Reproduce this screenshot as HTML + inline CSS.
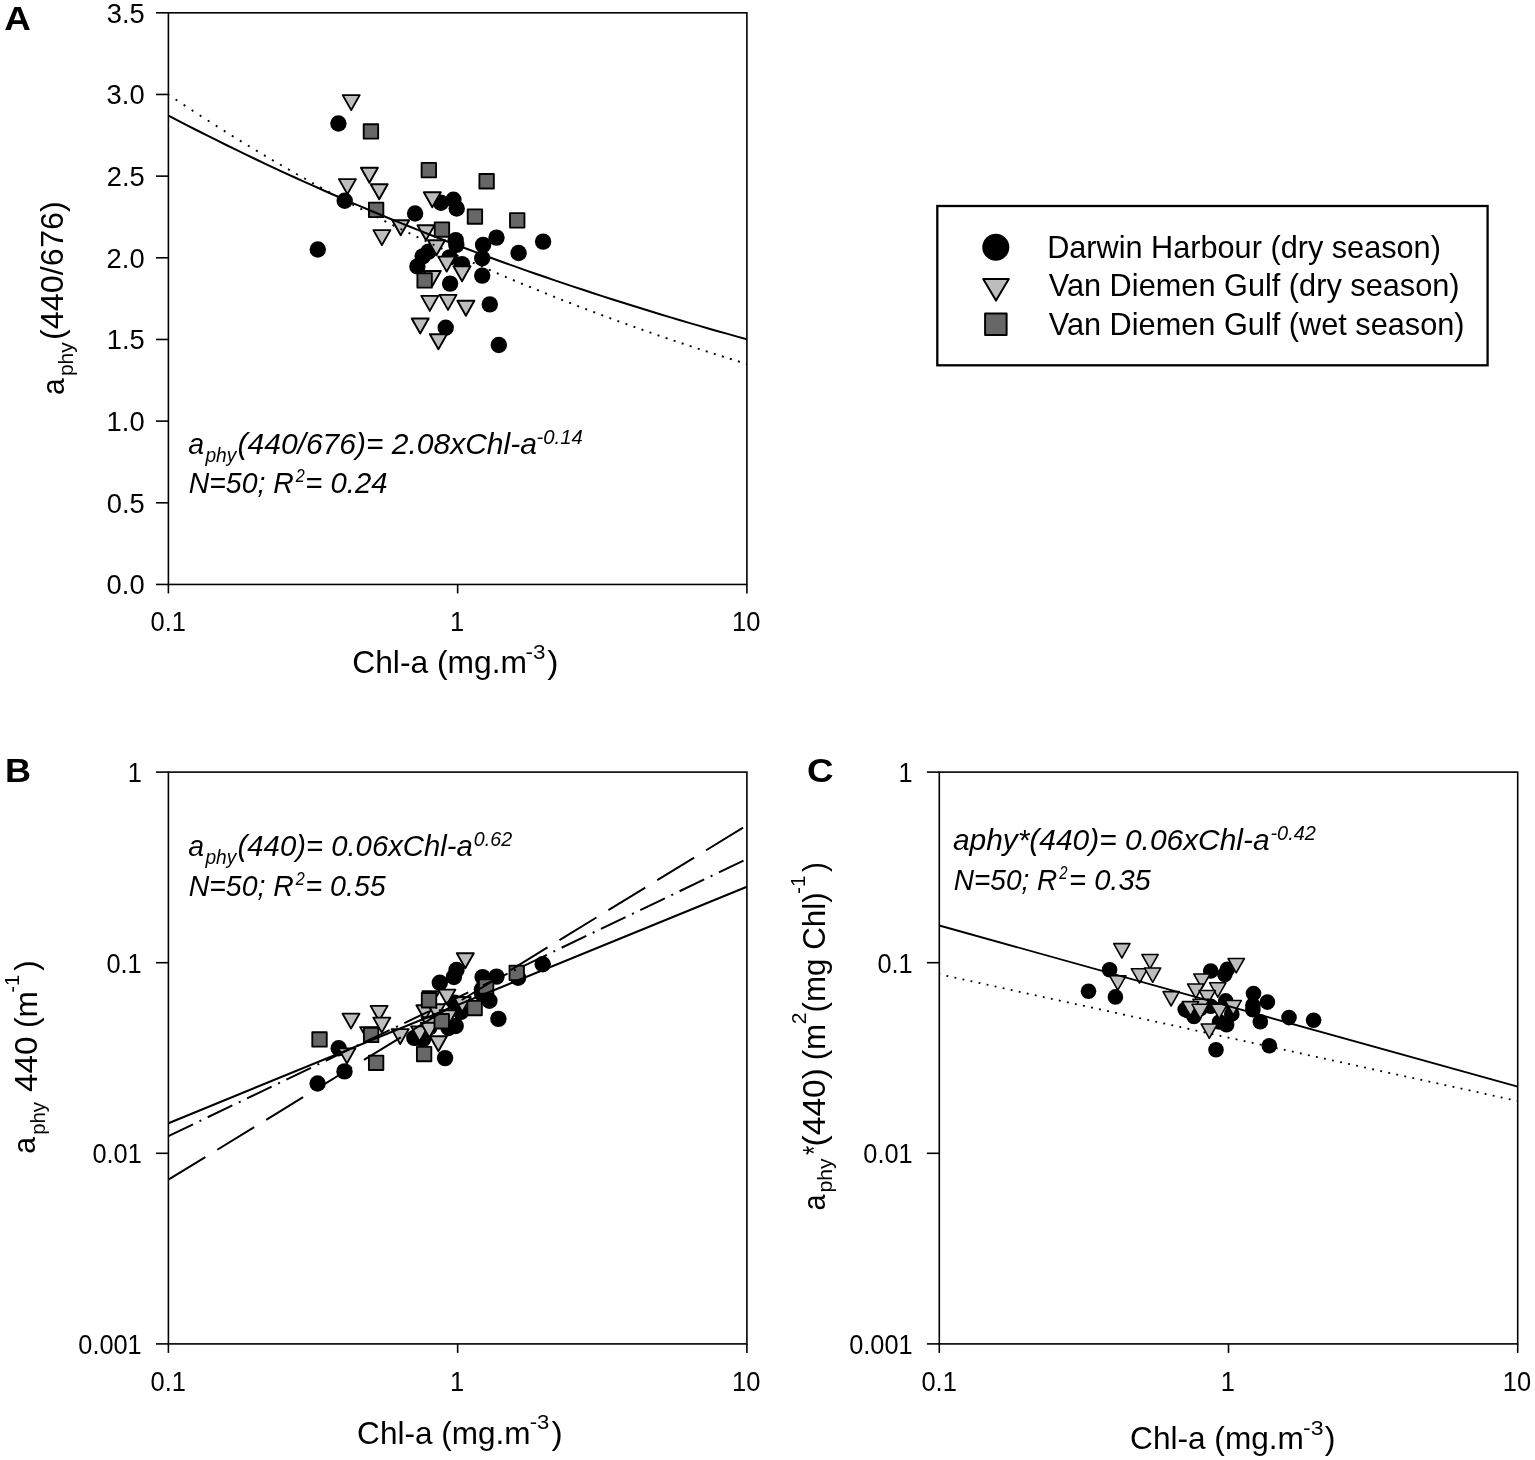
<!DOCTYPE html>
<html><head><meta charset="utf-8"><title>Figure</title>
<style>html,body{margin:0;padding:0;background:#fff}svg{display:block}</style></head>
<body>
<svg width="1535" height="1460" viewBox="0 0 1535 1460">
<rect width="1535" height="1460" fill="#fff"/>
<clipPath id="ca"><rect x="168.40" y="12.80" width="578.50" height="571.65"/></clipPath>
<clipPath id="cb"><rect x="168.40" y="772.10" width="578.50" height="571.80"/></clipPath>
<clipPath id="cc"><rect x="939.30" y="772.10" width="578.40" height="571.80"/></clipPath>
<circle cx="338.4" cy="123.5" r="8.2" fill="#000"/>
<circle cx="344.7" cy="200.8" r="8.2" fill="#000"/>
<circle cx="317.8" cy="249.5" r="8.2" fill="#000"/>
<circle cx="415.1" cy="213.5" r="8.2" fill="#000"/>
<circle cx="440.9" cy="202.7" r="8.2" fill="#000"/>
<circle cx="453.4" cy="199.8" r="8.2" fill="#000"/>
<circle cx="456.7" cy="208.5" r="8.2" fill="#000"/>
<circle cx="455.7" cy="240.1" r="8.2" fill="#000"/>
<circle cx="456.3" cy="244.9" r="8.2" fill="#000"/>
<circle cx="428.5" cy="251.6" r="8.2" fill="#000"/>
<circle cx="422.7" cy="256.4" r="8.2" fill="#000"/>
<circle cx="417.4" cy="266.4" r="8.2" fill="#000"/>
<circle cx="449.6" cy="257.4" r="8.2" fill="#000"/>
<circle cx="462.0" cy="264.1" r="8.2" fill="#000"/>
<circle cx="450.1" cy="283.6" r="8.2" fill="#000"/>
<circle cx="483.1" cy="244.9" r="8.2" fill="#000"/>
<circle cx="482.2" cy="258.3" r="8.2" fill="#000"/>
<circle cx="496.5" cy="237.6" r="8.2" fill="#000"/>
<circle cx="482.2" cy="275.6" r="8.2" fill="#000"/>
<circle cx="518.6" cy="253.0" r="8.2" fill="#000"/>
<circle cx="543.1" cy="241.6" r="8.2" fill="#000"/>
<circle cx="489.8" cy="304.4" r="8.2" fill="#000"/>
<circle cx="445.7" cy="327.7" r="8.2" fill="#000"/>
<circle cx="498.8" cy="345.0" r="8.2" fill="#000"/>
<path d="M342.7 95.1H359.7L351.2 110.1Z" fill="#bdbdbd" stroke="#000" stroke-width="1.9" stroke-linejoin="round"/>
<path d="M360.9 167.8H377.9L369.4 182.8Z" fill="#bdbdbd" stroke="#000" stroke-width="1.9" stroke-linejoin="round"/>
<path d="M338.9 179.1H355.9L347.4 194.1Z" fill="#bdbdbd" stroke="#000" stroke-width="1.9" stroke-linejoin="round"/>
<path d="M370.7 184.3H387.7L379.2 199.3Z" fill="#bdbdbd" stroke="#000" stroke-width="1.9" stroke-linejoin="round"/>
<path d="M373.4 230.1H390.4L381.9 245.1Z" fill="#bdbdbd" stroke="#000" stroke-width="1.9" stroke-linejoin="round"/>
<path d="M392.2 220.2H409.2L400.7 235.2Z" fill="#bdbdbd" stroke="#000" stroke-width="1.9" stroke-linejoin="round"/>
<path d="M417.5 225.3H434.5L426.0 240.3Z" fill="#bdbdbd" stroke="#000" stroke-width="1.9" stroke-linejoin="round"/>
<path d="M423.8 192.3H440.8L432.3 207.3Z" fill="#bdbdbd" stroke="#000" stroke-width="1.9" stroke-linejoin="round"/>
<path d="M428.0 240.3H445.0L436.5 255.3Z" fill="#bdbdbd" stroke="#000" stroke-width="1.9" stroke-linejoin="round"/>
<path d="M438.2 256.6H455.2L446.7 271.6Z" fill="#bdbdbd" stroke="#000" stroke-width="1.9" stroke-linejoin="round"/>
<path d="M453.5 266.2H470.5L462.0 281.2Z" fill="#bdbdbd" stroke="#000" stroke-width="1.9" stroke-linejoin="round"/>
<path d="M423.8 271.0H440.8L432.3 286.0Z" fill="#bdbdbd" stroke="#000" stroke-width="1.9" stroke-linejoin="round"/>
<path d="M421.3 295.9H438.3L429.8 310.9Z" fill="#bdbdbd" stroke="#000" stroke-width="1.9" stroke-linejoin="round"/>
<path d="M439.5 294.9H456.5L448.0 309.9Z" fill="#bdbdbd" stroke="#000" stroke-width="1.9" stroke-linejoin="round"/>
<path d="M457.4 300.7H474.4L465.9 315.7Z" fill="#bdbdbd" stroke="#000" stroke-width="1.9" stroke-linejoin="round"/>
<path d="M411.7 318.5H428.7L420.2 333.5Z" fill="#bdbdbd" stroke="#000" stroke-width="1.9" stroke-linejoin="round"/>
<path d="M429.9 334.2H446.9L438.4 349.2Z" fill="#bdbdbd" stroke="#000" stroke-width="1.9" stroke-linejoin="round"/>
<rect x="363.7" y="124.2" width="14.45" height="14.45" fill="#676767" stroke="#000" stroke-width="1.85" stroke-linejoin="round"/>
<rect x="421.6" y="162.9" width="14.45" height="14.45" fill="#676767" stroke="#000" stroke-width="1.85" stroke-linejoin="round"/>
<rect x="479.4" y="174.0" width="14.45" height="14.45" fill="#676767" stroke="#000" stroke-width="1.85" stroke-linejoin="round"/>
<rect x="368.9" y="202.6" width="14.45" height="14.45" fill="#676767" stroke="#000" stroke-width="1.85" stroke-linejoin="round"/>
<rect x="467.7" y="209.3" width="14.45" height="14.45" fill="#676767" stroke="#000" stroke-width="1.85" stroke-linejoin="round"/>
<rect x="510.0" y="213.1" width="14.45" height="14.45" fill="#676767" stroke="#000" stroke-width="1.85" stroke-linejoin="round"/>
<rect x="434.7" y="222.3" width="14.45" height="14.45" fill="#676767" stroke="#000" stroke-width="1.85" stroke-linejoin="round"/>
<rect x="417.4" y="273.2" width="14.45" height="14.45" fill="#676767" stroke="#000" stroke-width="1.85" stroke-linejoin="round"/>
<path d="M168.40 115.54L178.04 120.58L187.68 125.57L197.32 130.50L206.97 135.38L216.61 140.20L226.25 144.98L235.89 149.70L245.53 154.38L255.18 159.00L264.82 163.57L274.46 168.10L284.10 172.57L293.74 177.00L303.38 181.38L313.02 185.71L322.67 190.00L332.31 194.24L341.95 198.43L351.59 202.58L361.23 206.68L370.88 210.74L380.52 214.76L390.16 218.73L399.80 222.67L409.44 226.55L419.08 230.40L428.73 234.21L438.37 237.97L448.01 241.70L457.65 245.38L467.29 249.02L476.93 252.63L486.58 256.20L496.22 259.72L505.86 263.22L515.50 266.67L525.14 270.08L534.78 273.46L544.43 276.81L554.07 280.11L563.71 283.38L573.35 286.62L582.99 289.82L592.63 292.99L602.27 296.12L611.92 299.22L621.56 302.29L631.20 305.32L640.84 308.32L650.48 311.29L660.12 314.22L669.77 317.13L679.41 320.00L689.05 322.84L698.69 325.65L708.33 328.44L717.97 331.19L727.62 333.91L737.26 336.60L746.90 339.27" fill="none" stroke="#000" stroke-width="2.0" clip-path="url(#ca)"/>
<path d="M167.57 94.01L169.23 95.13M175.60 99.42L177.27 100.53M183.64 104.76L185.30 105.87M191.67 110.05L193.34 111.15M199.70 115.28L201.38 116.37M207.73 120.46L209.42 121.53M215.76 125.57L217.45 126.64M223.80 130.63L225.49 131.69M231.83 135.64L233.53 136.69M239.86 140.58L241.57 141.63M247.89 145.48L249.60 146.51M255.92 150.32L257.64 151.35M263.96 155.11L265.68 156.12M271.99 159.84L273.71 160.85M280.02 164.52L281.75 165.52M288.05 169.15L289.79 170.15M296.09 173.73L297.83 174.72M304.12 178.26L305.86 179.24M312.15 182.74L313.90 183.71M320.18 187.17L321.94 188.13M328.22 191.55L329.97 192.50M336.25 195.88L338.01 196.83M344.28 200.17L346.05 201.10M352.31 204.40L354.08 205.33M360.35 208.59L362.12 209.51M368.38 212.74L370.16 213.65M376.41 216.84L378.19 217.74M384.44 220.89L386.23 221.79M392.48 224.90L394.27 225.79M400.51 228.86L402.30 229.74M408.54 232.79L410.34 233.66M416.57 236.66L418.38 237.53M424.61 240.50L426.41 241.35M432.64 244.29L434.45 245.14M440.67 248.04L442.49 248.88M448.71 251.75L450.52 252.58M456.74 255.42L458.56 256.25M464.77 259.05L466.60 259.87M472.81 262.64L474.63 263.45M480.84 266.19L482.67 266.99M488.87 269.69L490.71 270.49M496.90 273.17L498.74 273.95M504.94 276.60L506.78 277.38M512.97 279.99L514.82 280.77M521.00 283.35L522.85 284.12M529.04 286.67L530.89 287.43M537.07 289.95L538.92 290.71M545.10 293.20L546.96 293.95M553.14 296.41L555.00 297.15M561.17 299.59L563.03 300.32M569.20 302.73L571.07 303.46M577.24 305.84L579.10 306.56M585.27 308.91L587.14 309.62M593.30 311.95L595.18 312.65M601.34 314.95L603.21 315.65M609.37 317.93L611.25 318.62M617.40 320.87L619.28 321.55M625.44 323.77L627.32 324.45M633.47 326.65L635.36 327.32M641.51 329.49L643.39 330.15M649.54 332.30L651.43 332.96M657.57 335.08L659.46 335.73M665.61 337.83L667.50 338.48M673.64 340.55L675.54 341.19M681.67 343.24L683.57 343.87M689.71 345.90L691.61 346.53M697.74 348.53L699.64 349.15M705.77 351.13L707.68 351.75M713.81 353.71L715.71 354.31M721.84 356.25L723.75 356.85M729.88 358.77L731.79 359.36M737.91 361.26L739.82 361.85M745.94 363.72L747.86 364.30" fill="none" stroke="#000" stroke-width="1.9" clip-path="url(#ca)"/>
<rect x="168.40" y="12.80" width="578.50" height="571.65" fill="none" stroke="#000" stroke-width="1.6"/>
<line x1="156.00" y1="584.45" x2="168.40" y2="584.45" stroke="#000" stroke-width="1.6"/>
<text x="106.63" y="594.45" font-size="26.8" textLength="38.00" lengthAdjust="spacingAndGlyphs" font-family="Liberation Sans, Arial, Helvetica, sans-serif">0.0</text>
<line x1="156.00" y1="502.79" x2="168.40" y2="502.79" stroke="#000" stroke-width="1.6"/>
<text x="106.70" y="512.79" font-size="26.8" textLength="38.00" lengthAdjust="spacingAndGlyphs" font-family="Liberation Sans, Arial, Helvetica, sans-serif">0.5</text>
<line x1="156.00" y1="421.12" x2="168.40" y2="421.12" stroke="#000" stroke-width="1.6"/>
<text x="106.63" y="431.12" font-size="26.8" textLength="38.00" lengthAdjust="spacingAndGlyphs" font-family="Liberation Sans, Arial, Helvetica, sans-serif">1.0</text>
<line x1="156.00" y1="339.46" x2="168.40" y2="339.46" stroke="#000" stroke-width="1.6"/>
<text x="106.70" y="349.46" font-size="26.8" textLength="38.00" lengthAdjust="spacingAndGlyphs" font-family="Liberation Sans, Arial, Helvetica, sans-serif">1.5</text>
<line x1="156.00" y1="257.79" x2="168.40" y2="257.79" stroke="#000" stroke-width="1.6"/>
<text x="106.63" y="267.79" font-size="26.8" textLength="38.00" lengthAdjust="spacingAndGlyphs" font-family="Liberation Sans, Arial, Helvetica, sans-serif">2.0</text>
<line x1="156.00" y1="176.13" x2="168.40" y2="176.13" stroke="#000" stroke-width="1.6"/>
<text x="106.70" y="186.13" font-size="26.8" textLength="38.00" lengthAdjust="spacingAndGlyphs" font-family="Liberation Sans, Arial, Helvetica, sans-serif">2.5</text>
<line x1="156.00" y1="94.46" x2="168.40" y2="94.46" stroke="#000" stroke-width="1.6"/>
<text x="106.63" y="104.46" font-size="26.8" textLength="38.00" lengthAdjust="spacingAndGlyphs" font-family="Liberation Sans, Arial, Helvetica, sans-serif">3.0</text>
<line x1="156.00" y1="12.80" x2="168.40" y2="12.80" stroke="#000" stroke-width="1.6"/>
<text x="106.70" y="22.80" font-size="26.8" textLength="38.00" lengthAdjust="spacingAndGlyphs" font-family="Liberation Sans, Arial, Helvetica, sans-serif">3.5</text>
<line x1="168.40" y1="584.45" x2="168.40" y2="593.45" stroke="#000" stroke-width="1.6"/>
<text x="150.53" y="631.45" font-size="26.8" textLength="35.39" lengthAdjust="spacingAndGlyphs" font-family="Liberation Sans, Arial, Helvetica, sans-serif">0.1</text>
<line x1="457.65" y1="584.45" x2="457.65" y2="593.45" stroke="#000" stroke-width="1.6"/>
<text x="449.93" y="631.45" font-size="26.8" textLength="14.16" lengthAdjust="spacingAndGlyphs" font-family="Liberation Sans, Arial, Helvetica, sans-serif">1</text>
<line x1="746.90" y1="584.45" x2="746.90" y2="593.45" stroke="#000" stroke-width="1.6"/>
<text x="731.99" y="631.45" font-size="26.8" textLength="28.32" lengthAdjust="spacingAndGlyphs" font-family="Liberation Sans, Arial, Helvetica, sans-serif">10</text>
<circle cx="317.6" cy="1083.5" r="8.2" fill="#000"/>
<circle cx="338.7" cy="1048.2" r="8.2" fill="#000"/>
<circle cx="344.5" cy="1071.4" r="8.2" fill="#000"/>
<circle cx="414.3" cy="1037.9" r="8.2" fill="#000"/>
<circle cx="423.1" cy="1039.2" r="8.2" fill="#000"/>
<circle cx="439.8" cy="982.8" r="8.2" fill="#000"/>
<circle cx="453.9" cy="977.0" r="8.2" fill="#000"/>
<circle cx="456.5" cy="970.0" r="8.2" fill="#000"/>
<circle cx="439.8" cy="1017.9" r="8.2" fill="#000"/>
<circle cx="454.8" cy="1002.8" r="8.2" fill="#000"/>
<circle cx="460.9" cy="1011.9" r="8.2" fill="#000"/>
<circle cx="448.6" cy="1028.0" r="8.2" fill="#000"/>
<circle cx="455.7" cy="1026.0" r="8.2" fill="#000"/>
<circle cx="445.1" cy="1058.1" r="8.2" fill="#000"/>
<circle cx="482.6" cy="977.1" r="8.2" fill="#000"/>
<circle cx="482.0" cy="989.2" r="8.2" fill="#000"/>
<circle cx="482.0" cy="993.6" r="8.2" fill="#000"/>
<circle cx="496.5" cy="976.6" r="8.2" fill="#000"/>
<circle cx="489.4" cy="1000.7" r="8.2" fill="#000"/>
<circle cx="518.1" cy="977.8" r="8.2" fill="#000"/>
<circle cx="542.7" cy="964.2" r="8.2" fill="#000"/>
<circle cx="498.4" cy="1018.9" r="8.2" fill="#000"/>
<circle cx="429.3" cy="1027.5" r="8.2" fill="#000"/>
<circle cx="416.6" cy="1037.6" r="8.2" fill="#000"/>
<path d="M342.5 1013.6H359.5L351.0 1028.6Z" fill="#bdbdbd" stroke="#000" stroke-width="1.9" stroke-linejoin="round"/>
<path d="M370.6 1005.9H387.6L379.1 1020.9Z" fill="#bdbdbd" stroke="#000" stroke-width="1.9" stroke-linejoin="round"/>
<path d="M360.1 1027.1H377.1L368.6 1042.1Z" fill="#bdbdbd" stroke="#000" stroke-width="1.9" stroke-linejoin="round"/>
<path d="M373.3 1017.6H390.3L381.8 1032.6Z" fill="#bdbdbd" stroke="#000" stroke-width="1.9" stroke-linejoin="round"/>
<path d="M338.4 1048.4H355.4L346.9 1063.4Z" fill="#bdbdbd" stroke="#000" stroke-width="1.9" stroke-linejoin="round"/>
<path d="M391.7 1029.1H408.7L400.2 1044.1Z" fill="#bdbdbd" stroke="#000" stroke-width="1.9" stroke-linejoin="round"/>
<path d="M422.5 991.3H439.5L431.0 1006.3Z" fill="#bdbdbd" stroke="#000" stroke-width="1.9" stroke-linejoin="round"/>
<path d="M416.4 1005.3H433.4L424.9 1020.3Z" fill="#bdbdbd" stroke="#000" stroke-width="1.9" stroke-linejoin="round"/>
<path d="M438.4 989.6H455.4L446.9 1004.6Z" fill="#bdbdbd" stroke="#000" stroke-width="1.9" stroke-linejoin="round"/>
<path d="M427.8 1004.3H444.8L436.3 1019.3Z" fill="#bdbdbd" stroke="#000" stroke-width="1.9" stroke-linejoin="round"/>
<path d="M456.8 953.2H473.8L465.3 968.2Z" fill="#bdbdbd" stroke="#000" stroke-width="1.9" stroke-linejoin="round"/>
<path d="M421.6 1017.2H438.6L430.1 1032.2Z" fill="#bdbdbd" stroke="#000" stroke-width="1.9" stroke-linejoin="round"/>
<path d="M411.1 1026.4H428.1L419.6 1041.4Z" fill="#bdbdbd" stroke="#000" stroke-width="1.9" stroke-linejoin="round"/>
<path d="M420.8 1022.7H437.8L429.3 1037.7Z" fill="#bdbdbd" stroke="#000" stroke-width="1.9" stroke-linejoin="round"/>
<path d="M439.8 1010.2H456.8L448.3 1025.2Z" fill="#bdbdbd" stroke="#000" stroke-width="1.9" stroke-linejoin="round"/>
<path d="M453.8 997.0H470.8L462.3 1012.0Z" fill="#bdbdbd" stroke="#000" stroke-width="1.9" stroke-linejoin="round"/>
<path d="M429.9 1036.3H446.9L438.4 1051.3Z" fill="#bdbdbd" stroke="#000" stroke-width="1.9" stroke-linejoin="round"/>
<rect x="312.3" y="1032.2" width="14.45" height="14.45" fill="#676767" stroke="#000" stroke-width="1.85" stroke-linejoin="round"/>
<rect x="363.9" y="1027.7" width="14.45" height="14.45" fill="#676767" stroke="#000" stroke-width="1.85" stroke-linejoin="round"/>
<rect x="368.9" y="1055.6" width="14.45" height="14.45" fill="#676767" stroke="#000" stroke-width="1.85" stroke-linejoin="round"/>
<rect x="416.9" y="1046.8" width="14.45" height="14.45" fill="#676767" stroke="#000" stroke-width="1.85" stroke-linejoin="round"/>
<rect x="421.8" y="993.0" width="14.45" height="14.45" fill="#676767" stroke="#000" stroke-width="1.85" stroke-linejoin="round"/>
<rect x="434.5" y="1014.0" width="14.45" height="14.45" fill="#676767" stroke="#000" stroke-width="1.85" stroke-linejoin="round"/>
<rect x="467.4" y="1000.8" width="14.45" height="14.45" fill="#676767" stroke="#000" stroke-width="1.85" stroke-linejoin="round"/>
<rect x="478.9" y="979.3" width="14.45" height="14.45" fill="#676767" stroke="#000" stroke-width="1.85" stroke-linejoin="round"/>
<rect x="509.5" y="965.6" width="14.45" height="14.45" fill="#676767" stroke="#000" stroke-width="1.85" stroke-linejoin="round"/>
<line x1="168.40" y1="1123.16" x2="746.90" y2="886.81" stroke="#000" stroke-width="2.1"/>
<line x1="168.40" y1="1136.10" x2="746.90" y2="859.00" stroke="#000" stroke-width="2" stroke-dasharray="27.3 7.15 2 7.15"/>
<line x1="168.40" y1="1179.70" x2="746.90" y2="825.30" stroke="#000" stroke-width="2" stroke-dasharray="43.3 14.03"/>
<rect x="168.40" y="772.10" width="578.50" height="571.80" fill="none" stroke="#000" stroke-width="1.6"/>
<line x1="156.00" y1="1343.90" x2="168.40" y2="1343.90" stroke="#000" stroke-width="1.6"/>
<text x="78.32" y="1353.90" font-size="26.8" textLength="63.38" lengthAdjust="spacingAndGlyphs" font-family="Liberation Sans, Arial, Helvetica, sans-serif">0.001</text>
<line x1="156.00" y1="1153.30" x2="168.40" y2="1153.30" stroke="#000" stroke-width="1.6"/>
<text x="92.44" y="1163.30" font-size="26.8" textLength="49.29" lengthAdjust="spacingAndGlyphs" font-family="Liberation Sans, Arial, Helvetica, sans-serif">0.01</text>
<line x1="156.00" y1="962.70" x2="168.40" y2="962.70" stroke="#000" stroke-width="1.6"/>
<text x="106.50" y="972.70" font-size="26.8" textLength="35.21" lengthAdjust="spacingAndGlyphs" font-family="Liberation Sans, Arial, Helvetica, sans-serif">0.1</text>
<line x1="156.00" y1="772.10" x2="168.40" y2="772.10" stroke="#000" stroke-width="1.6"/>
<text x="127.65" y="782.10" font-size="26.8" textLength="14.09" lengthAdjust="spacingAndGlyphs" font-family="Liberation Sans, Arial, Helvetica, sans-serif">1</text>
<line x1="168.40" y1="1343.90" x2="168.40" y2="1352.90" stroke="#000" stroke-width="1.6"/>
<text x="150.53" y="1390.90" font-size="26.8" textLength="35.39" lengthAdjust="spacingAndGlyphs" font-family="Liberation Sans, Arial, Helvetica, sans-serif">0.1</text>
<line x1="457.65" y1="1343.90" x2="457.65" y2="1352.90" stroke="#000" stroke-width="1.6"/>
<text x="449.93" y="1390.90" font-size="26.8" textLength="14.16" lengthAdjust="spacingAndGlyphs" font-family="Liberation Sans, Arial, Helvetica, sans-serif">1</text>
<line x1="746.90" y1="1343.90" x2="746.90" y2="1352.90" stroke="#000" stroke-width="1.6"/>
<text x="731.99" y="1390.90" font-size="26.8" textLength="28.32" lengthAdjust="spacingAndGlyphs" font-family="Liberation Sans, Arial, Helvetica, sans-serif">10</text>
<circle cx="1088.5" cy="991.2" r="7.8" fill="#000"/>
<circle cx="1109.6" cy="969.8" r="7.8" fill="#000"/>
<circle cx="1115.4" cy="996.9" r="7.8" fill="#000"/>
<circle cx="1185.2" cy="1009.4" r="7.8" fill="#000"/>
<circle cx="1194.0" cy="1016.4" r="7.8" fill="#000"/>
<circle cx="1210.7" cy="971.0" r="7.8" fill="#000"/>
<circle cx="1224.8" cy="974.5" r="7.8" fill="#000"/>
<circle cx="1227.4" cy="969.3" r="7.8" fill="#000"/>
<circle cx="1210.7" cy="1006.2" r="7.8" fill="#000"/>
<circle cx="1225.7" cy="1000.9" r="7.8" fill="#000"/>
<circle cx="1231.8" cy="1014.1" r="7.8" fill="#000"/>
<circle cx="1219.5" cy="1022.0" r="7.8" fill="#000"/>
<circle cx="1226.6" cy="1024.7" r="7.8" fill="#000"/>
<circle cx="1216.0" cy="1049.8" r="7.8" fill="#000"/>
<circle cx="1253.5" cy="993.5" r="7.8" fill="#000"/>
<circle cx="1252.9" cy="1005.3" r="7.8" fill="#000"/>
<circle cx="1252.9" cy="1009.7" r="7.8" fill="#000"/>
<circle cx="1267.4" cy="1002.1" r="7.8" fill="#000"/>
<circle cx="1260.3" cy="1021.7" r="7.8" fill="#000"/>
<circle cx="1289.0" cy="1017.6" r="7.8" fill="#000"/>
<circle cx="1313.6" cy="1020.3" r="7.8" fill="#000"/>
<circle cx="1269.3" cy="1045.8" r="7.8" fill="#000"/>
<circle cx="1200.2" cy="1008.8" r="7.8" fill="#000"/>
<circle cx="1187.5" cy="1010.6" r="7.8" fill="#000"/>
<path d="M1113.7 943.6H1130.0L1121.9 958.0Z" fill="#bdbdbd" stroke="#000" stroke-width="1.55" stroke-linejoin="round"/>
<path d="M1141.9 954.5H1158.2L1150.0 968.9Z" fill="#bdbdbd" stroke="#000" stroke-width="1.55" stroke-linejoin="round"/>
<path d="M1131.3 968.7H1147.6L1139.5 983.1Z" fill="#bdbdbd" stroke="#000" stroke-width="1.55" stroke-linejoin="round"/>
<path d="M1144.5 967.9H1160.8L1152.7 982.3Z" fill="#bdbdbd" stroke="#000" stroke-width="1.55" stroke-linejoin="round"/>
<path d="M1109.7 975.8H1126.0L1117.8 990.2Z" fill="#bdbdbd" stroke="#000" stroke-width="1.55" stroke-linejoin="round"/>
<path d="M1163.0 991.6H1179.3L1171.1 1006.0Z" fill="#bdbdbd" stroke="#000" stroke-width="1.55" stroke-linejoin="round"/>
<path d="M1193.8 974.0H1210.1L1201.9 988.4Z" fill="#bdbdbd" stroke="#000" stroke-width="1.55" stroke-linejoin="round"/>
<path d="M1187.6 984.0H1203.9L1195.8 998.4Z" fill="#bdbdbd" stroke="#000" stroke-width="1.55" stroke-linejoin="round"/>
<path d="M1209.6 982.8H1225.9L1217.8 997.2Z" fill="#bdbdbd" stroke="#000" stroke-width="1.55" stroke-linejoin="round"/>
<path d="M1199.1 990.5H1215.4L1207.2 1004.9Z" fill="#bdbdbd" stroke="#000" stroke-width="1.55" stroke-linejoin="round"/>
<path d="M1228.1 958.5H1244.4L1236.2 972.9Z" fill="#bdbdbd" stroke="#000" stroke-width="1.55" stroke-linejoin="round"/>
<path d="M1192.9 999.3H1209.2L1201.0 1013.7Z" fill="#bdbdbd" stroke="#000" stroke-width="1.55" stroke-linejoin="round"/>
<path d="M1182.3 1001.6H1198.6L1190.5 1016.0Z" fill="#bdbdbd" stroke="#000" stroke-width="1.55" stroke-linejoin="round"/>
<path d="M1192.0 1004.3H1208.3L1200.2 1018.7Z" fill="#bdbdbd" stroke="#000" stroke-width="1.55" stroke-linejoin="round"/>
<path d="M1211.0 1004.3H1227.3L1219.2 1018.7Z" fill="#bdbdbd" stroke="#000" stroke-width="1.55" stroke-linejoin="round"/>
<path d="M1225.1 1000.4H1241.4L1233.2 1014.8Z" fill="#bdbdbd" stroke="#000" stroke-width="1.55" stroke-linejoin="round"/>
<path d="M1201.2 1024.0H1217.5L1209.3 1038.4Z" fill="#bdbdbd" stroke="#000" stroke-width="1.55" stroke-linejoin="round"/>
<line x1="939.30" y1="925.50" x2="1517.70" y2="1086.70" stroke="#000" stroke-width="1.9"/>
<path d="M938.37 974.00L940.23 974.40M946.41 975.76L948.26 976.16M954.44 977.52L956.29 977.93M962.47 979.28L964.33 979.69M970.51 981.04L972.36 981.45M978.54 982.80L980.39 983.21M986.57 984.56L988.43 984.97M994.61 986.32L996.46 986.73M1002.64 988.09L1004.49 988.49M1010.67 989.85L1012.53 990.25M1018.71 991.61L1020.56 992.01M1026.74 993.37L1028.59 993.78M1034.77 995.13L1036.63 995.54M1042.81 996.89L1044.66 997.30M1050.84 998.65L1052.69 999.06M1058.87 1000.41L1060.73 1000.82M1066.91 1002.17L1068.76 1002.58M1074.94 1003.94L1076.79 1004.34M1082.97 1005.70L1084.83 1006.10M1091.01 1007.46L1092.86 1007.86M1099.04 1009.22L1100.89 1009.63M1107.07 1010.98L1108.93 1011.39M1115.11 1012.74L1116.96 1013.15M1123.14 1014.50L1124.99 1014.91M1131.17 1016.26L1133.03 1016.67M1139.21 1018.02L1141.06 1018.43M1147.24 1019.79L1149.09 1020.19M1155.27 1021.55L1157.13 1021.95M1163.31 1023.31L1165.16 1023.71M1171.34 1025.07L1173.19 1025.48M1179.37 1026.83L1181.23 1027.24M1187.41 1028.59L1189.26 1029.00M1195.44 1030.35L1197.29 1030.76M1203.47 1032.11L1205.33 1032.52M1211.51 1033.87L1213.36 1034.28M1219.54 1035.64L1221.39 1036.04M1227.57 1037.40L1229.43 1037.80M1235.61 1039.16L1237.46 1039.56M1243.64 1040.92L1245.49 1041.33M1251.67 1042.68L1253.53 1043.09M1259.71 1044.44L1261.56 1044.85M1267.74 1046.20L1269.59 1046.61M1275.77 1047.96L1277.63 1048.37M1283.81 1049.72L1285.66 1050.13M1291.84 1051.49L1293.69 1051.89M1299.87 1053.25L1301.73 1053.65M1307.91 1055.01L1309.76 1055.41M1315.94 1056.77L1317.79 1057.18M1323.97 1058.53L1325.83 1058.94M1332.01 1060.29L1333.86 1060.70M1340.04 1062.05L1341.89 1062.46M1348.07 1063.81L1349.93 1064.22M1356.11 1065.57L1357.96 1065.98M1364.14 1067.34L1365.99 1067.74M1372.17 1069.10L1374.03 1069.50M1380.21 1070.86L1382.06 1071.26M1388.24 1072.62L1390.09 1073.03M1396.27 1074.38L1398.13 1074.79M1404.31 1076.14L1406.16 1076.55M1412.34 1077.90L1414.19 1078.31M1420.37 1079.66L1422.23 1080.07M1428.41 1081.42L1430.26 1081.83M1436.44 1083.19L1438.29 1083.59M1444.47 1084.95L1446.33 1085.35M1452.51 1086.71L1454.36 1087.11M1460.54 1088.47L1462.39 1088.88M1468.57 1090.23L1470.43 1090.64M1476.61 1091.99L1478.46 1092.40M1484.64 1093.75L1486.49 1094.16M1492.67 1095.51L1494.53 1095.92M1500.71 1097.27L1502.56 1097.68M1508.74 1099.04L1510.59 1099.44M1516.77 1100.80L1518.63 1101.20" fill="none" stroke="#000" stroke-width="1.8" clip-path="url(#cc)"/>
<rect x="939.30" y="772.10" width="578.40" height="571.80" fill="none" stroke="#000" stroke-width="1.6"/>
<line x1="926.90" y1="1343.90" x2="939.30" y2="1343.90" stroke="#000" stroke-width="1.6"/>
<text x="849.22" y="1353.90" font-size="26.8" textLength="63.38" lengthAdjust="spacingAndGlyphs" font-family="Liberation Sans, Arial, Helvetica, sans-serif">0.001</text>
<line x1="926.90" y1="1153.30" x2="939.30" y2="1153.30" stroke="#000" stroke-width="1.6"/>
<text x="863.34" y="1163.30" font-size="26.8" textLength="49.29" lengthAdjust="spacingAndGlyphs" font-family="Liberation Sans, Arial, Helvetica, sans-serif">0.01</text>
<line x1="926.90" y1="962.70" x2="939.30" y2="962.70" stroke="#000" stroke-width="1.6"/>
<text x="877.40" y="972.70" font-size="26.8" textLength="35.21" lengthAdjust="spacingAndGlyphs" font-family="Liberation Sans, Arial, Helvetica, sans-serif">0.1</text>
<line x1="926.90" y1="772.10" x2="939.30" y2="772.10" stroke="#000" stroke-width="1.6"/>
<text x="898.55" y="782.10" font-size="26.8" textLength="14.09" lengthAdjust="spacingAndGlyphs" font-family="Liberation Sans, Arial, Helvetica, sans-serif">1</text>
<line x1="939.30" y1="1343.90" x2="939.30" y2="1352.90" stroke="#000" stroke-width="1.6"/>
<text x="921.43" y="1390.90" font-size="26.8" textLength="35.39" lengthAdjust="spacingAndGlyphs" font-family="Liberation Sans, Arial, Helvetica, sans-serif">0.1</text>
<line x1="1228.50" y1="1343.90" x2="1228.50" y2="1352.90" stroke="#000" stroke-width="1.6"/>
<text x="1220.78" y="1390.90" font-size="26.8" textLength="14.16" lengthAdjust="spacingAndGlyphs" font-family="Liberation Sans, Arial, Helvetica, sans-serif">1</text>
<line x1="1517.70" y1="1343.90" x2="1517.70" y2="1352.90" stroke="#000" stroke-width="1.6"/>
<text x="1502.79" y="1390.90" font-size="26.8" textLength="28.32" lengthAdjust="spacingAndGlyphs" font-family="Liberation Sans, Arial, Helvetica, sans-serif">10</text>
<text x="4.28" y="29.60" font-size="33" font-weight="bold" textLength="26.63" lengthAdjust="spacingAndGlyphs" font-family="Liberation Sans, Arial, Helvetica, sans-serif">A</text>
<text x="5.05" y="781.80" font-size="33" font-weight="bold" textLength="26.06" lengthAdjust="spacingAndGlyphs" font-family="Liberation Sans, Arial, Helvetica, sans-serif">B</text>
<text x="807.03" y="781.80" font-size="33" font-weight="bold" textLength="26.57" lengthAdjust="spacingAndGlyphs" font-family="Liberation Sans, Arial, Helvetica, sans-serif">C</text>
<text font-family="Liberation Sans, Arial, Helvetica, sans-serif"><tspan x="352.21" y="673.20" font-size="32" textLength="174.88" lengthAdjust="spacingAndGlyphs">Chl-a (mg.m</tspan><tspan x="525.55" y="659.00" font-size="21" textLength="19.94" lengthAdjust="spacingAndGlyphs">-3</tspan><tspan x="547.33" y="673.20" font-size="32" textLength="11.20" lengthAdjust="spacingAndGlyphs">)</tspan></text>
<text font-family="Liberation Sans, Arial, Helvetica, sans-serif"><tspan x="357.12" y="1443.60" font-size="32" textLength="173.45" lengthAdjust="spacingAndGlyphs">Chl-a (mg.m</tspan><tspan x="529.66" y="1429.30" font-size="21" textLength="19.61" lengthAdjust="spacingAndGlyphs">-3</tspan><tspan x="551.43" y="1443.60" font-size="32" textLength="11.20" lengthAdjust="spacingAndGlyphs">)</tspan></text>
<text font-family="Liberation Sans, Arial, Helvetica, sans-serif"><tspan x="1130.12" y="1449.20" font-size="32" textLength="173.75" lengthAdjust="spacingAndGlyphs">Chl-a (mg.m</tspan><tspan x="1303.02" y="1435.00" font-size="21" textLength="20.50" lengthAdjust="spacingAndGlyphs">-3</tspan><tspan x="1324.84" y="1449.20" font-size="32" textLength="10.71" lengthAdjust="spacingAndGlyphs">)</tspan></text>
<text transform="rotate(-90)" font-family="Liberation Sans, Arial, Helvetica, sans-serif"><tspan x="-395.07" y="63.50" font-size="32" textLength="16.63" lengthAdjust="spacingAndGlyphs">a</tspan><tspan x="-376.11" y="72.90" font-size="21" textLength="33.91" lengthAdjust="spacingAndGlyphs">phy</tspan><tspan x="-340.05" y="63.30" font-size="32" textLength="138.82" lengthAdjust="spacingAndGlyphs">(440/676)</tspan></text>
<text transform="rotate(-90)" font-family="Liberation Sans, Arial, Helvetica, sans-serif"><tspan x="-1153.78" y="35.20" font-size="32" textLength="16.74" lengthAdjust="spacingAndGlyphs">a</tspan><tspan x="-1134.87" y="44.80" font-size="21" textLength="32.87" lengthAdjust="spacingAndGlyphs">phy</tspan><tspan x="-1101.28" y="37.00" font-size="32" textLength="64.78" lengthAdjust="spacingAndGlyphs"> 440</tspan><tspan x="-1036.81" y="37.00" font-size="32" textLength="45.82" lengthAdjust="spacingAndGlyphs"> (m</tspan><tspan x="-992.66" y="18.60" font-size="21" textLength="18.06" lengthAdjust="spacingAndGlyphs">-1</tspan><tspan x="-970.86" y="37.00" font-size="32" textLength="10.33" lengthAdjust="spacingAndGlyphs">)</tspan></text>
<text transform="rotate(-90)" font-family="Liberation Sans, Arial, Helvetica, sans-serif"><tspan x="-1210.42" y="824.90" font-size="32" textLength="15.98" lengthAdjust="spacingAndGlyphs">a</tspan><tspan x="-1192.53" y="832.30" font-size="21" textLength="34.22" lengthAdjust="spacingAndGlyphs">phy</tspan><tspan x="-1154.84" y="824.70" font-size="32" textLength="8.86" lengthAdjust="spacingAndGlyphs">*</tspan><tspan x="-1146.41" y="824.70" font-size="32" textLength="78.31" lengthAdjust="spacingAndGlyphs">(440)</tspan><tspan x="-1069.01" y="824.70" font-size="32" textLength="44.98" lengthAdjust="spacingAndGlyphs"> (m</tspan><tspan x="-1024.26" y="805.80" font-size="21" textLength="11.79" lengthAdjust="spacingAndGlyphs">2</tspan><tspan x="-1012.38" y="824.70" font-size="32" textLength="119.99" lengthAdjust="spacingAndGlyphs">(mg Chl)</tspan><tspan x="-894.09" y="805.30" font-size="21" textLength="18.62" lengthAdjust="spacingAndGlyphs">-1</tspan><tspan x="-871.95" y="824.70" font-size="32" textLength="9.83" lengthAdjust="spacingAndGlyphs">)</tspan></text>
<text font-style="italic" font-family="Liberation Sans, Arial, Helvetica, sans-serif"><tspan x="188.33" y="453.80" font-size="29.6" textLength="15.83" lengthAdjust="spacingAndGlyphs">a</tspan><tspan x="205.38" y="461.70" font-size="20" textLength="30.91" lengthAdjust="spacingAndGlyphs">phy</tspan><tspan x="237.55" y="453.80" font-size="29.6" textLength="299.36" lengthAdjust="spacingAndGlyphs">(440/676)= 2.08xChl-a</tspan><tspan x="536.49" y="443.60" font-size="20" textLength="46.26" lengthAdjust="spacingAndGlyphs">-0.14</tspan></text>
<text font-style="italic" font-family="Liberation Sans, Arial, Helvetica, sans-serif"><tspan x="188.75" y="492.50" font-size="29.6" textLength="104.97" lengthAdjust="spacingAndGlyphs">N=50; R</tspan><tspan x="295.72" y="482.00" font-size="17.5" textLength="9.00" lengthAdjust="spacingAndGlyphs">2</tspan><tspan x="305.37" y="492.50" font-size="29.6" textLength="82.07" lengthAdjust="spacingAndGlyphs">= 0.24</tspan></text>
<text font-style="italic" font-family="Liberation Sans, Arial, Helvetica, sans-serif"><tspan x="188.33" y="856.30" font-size="29.6" textLength="15.83" lengthAdjust="spacingAndGlyphs">a</tspan><tspan x="205.38" y="864.20" font-size="20" textLength="30.91" lengthAdjust="spacingAndGlyphs">phy</tspan><tspan x="237.58" y="856.30" font-size="29.6" textLength="235.27" lengthAdjust="spacingAndGlyphs">(440)= 0.06xChl-a</tspan><tspan x="473.87" y="846.10" font-size="20" textLength="38.21" lengthAdjust="spacingAndGlyphs">0.62</tspan></text>
<text font-style="italic" font-family="Liberation Sans, Arial, Helvetica, sans-serif"><tspan x="188.75" y="895.50" font-size="29.6" textLength="104.97" lengthAdjust="spacingAndGlyphs">N=50; R</tspan><tspan x="295.72" y="885.00" font-size="17.5" textLength="9.00" lengthAdjust="spacingAndGlyphs">2</tspan><tspan x="305.41" y="895.50" font-size="29.6" textLength="80.37" lengthAdjust="spacingAndGlyphs">= 0.55</tspan></text>
<text font-style="italic" font-family="Liberation Sans, Arial, Helvetica, sans-serif"><tspan x="952.90" y="850.40" font-size="29.6" textLength="316.67" lengthAdjust="spacingAndGlyphs">aphy*(440)= 0.06xChl-a</tspan><tspan x="1270.40" y="840.40" font-size="20" textLength="45.48" lengthAdjust="spacingAndGlyphs">-0.42</tspan></text>
<text font-style="italic" font-family="Liberation Sans, Arial, Helvetica, sans-serif"><tspan x="953.76" y="889.60" font-size="29.6" textLength="103.55" lengthAdjust="spacingAndGlyphs">N=50; R</tspan><tspan x="1059.31" y="878.60" font-size="17.5" textLength="8.29" lengthAdjust="spacingAndGlyphs">2</tspan><tspan x="1069.08" y="889.60" font-size="29.6" textLength="81.69" lengthAdjust="spacingAndGlyphs">= 0.35</tspan></text>
<rect x="937.3" y="206" width="550.3" height="159.3" fill="#fff" stroke="#000" stroke-width="2.3"/>
<circle cx="995.8" cy="247.2" r="13.5" fill="#000"/>
<path d="M983.2 279.1H1008.8L996.0 300.6Z" fill="#bdbdbd" stroke="#000" stroke-width="2" stroke-linejoin="round"/>
<rect x="985.1" y="313.4" width="21.5" height="21.5" fill="#676767" stroke="#000" stroke-width="2" stroke-linejoin="round"/>
<text x="1047.15" y="257.80" font-size="30.7" textLength="393.72" lengthAdjust="spacingAndGlyphs" font-family="Liberation Sans, Arial, Helvetica, sans-serif">Darwin Harbour (dry season)</text>
<text x="1048.72" y="296.40" font-size="30.7" textLength="410.86" lengthAdjust="spacingAndGlyphs" font-family="Liberation Sans, Arial, Helvetica, sans-serif">Van Diemen Gulf (dry season)</text>
<text x="1048.72" y="335.00" font-size="30.7" textLength="415.85" lengthAdjust="spacingAndGlyphs" font-family="Liberation Sans, Arial, Helvetica, sans-serif">Van Diemen Gulf (wet season)</text>
</svg>
</body></html>
